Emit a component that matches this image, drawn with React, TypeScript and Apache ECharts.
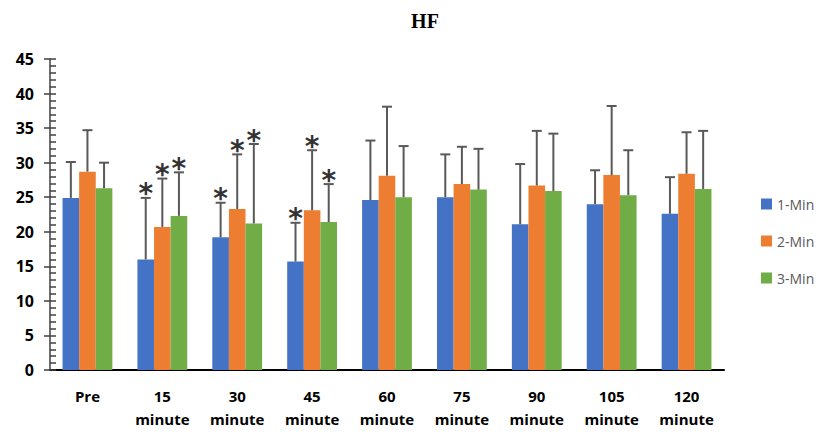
import React, { useEffect, useRef } from "react";
import * as echarts from "echarts";

const categories = ["Pre", "15\nminute", "30\nminute", "45\nminute", "60\nminute", "75\nminute", "90\nminute", "105\nminute", "120\nminute"];
const seriesNames = ["1-Min", "2-Min", "3-Min"];
const colors = ["#4472C4", "#ED7D31", "#70AD47"];

const min1 = [24.9, 16.0, 19.2, 15.7, 24.6, 25.0, 21.1, 24.0, 22.6];
const min2 = [28.7, 20.7, 23.3, 23.1, 28.1, 26.9, 26.7, 28.2, 28.4];
const min3 = [26.3, 22.3, 21.2, 21.4, 25.0, 26.1, 25.9, 25.3, 26.2];

const err1 = [30.1, 24.9, 24.2, 21.3, 33.2, 31.2, 29.8, 28.9, 27.9];
const err2 = [34.7, 27.7, 31.2, 31.8, 38.1, 32.3, 34.6, 38.2, 34.4];
const err3 = [30.0, 28.6, 32.7, 26.9, 32.4, 32.0, 34.2, 31.8, 34.6];

const star1 = [0, 1, 1, 1, 0, 0, 0, 0, 0];
const star2 = [0, 1, 1, 1, 0, 0, 0, 0, 0];
const star3 = [0, 1, 1, 1, 0, 0, 0, 0, 0];

const yTicks = [0, 5, 10, 15, 20, 25, 30, 35, 40, 45];

export default function App() {
  const ref = useRef<HTMLDivElement>(null);
  useEffect(() => {
    if (!ref.current) return;
    const chart = echarts.init(ref.current, undefined, { renderer: "svg" });
    const values = [min1, min2, min3];
    const errs = [err1, err2, err3];
    const stars = [star1, star2, star3];
    const catGapFrac = 0.335;

    const barSeries = seriesNames.map((name, i) => ({
      name,
      type: "bar",
      data: values[i],
      itemStyle: { color: colors[i] },
      barGap: "0%",
      barCategoryGap: "33.5%",
      z: 2,
    }));

    const errSeries = seriesNames.map((name, i) => ({
      name: name + " err",
      type: "custom",
      z: 5,
      data: values[i].map((v, j) => [j, v, errs[i][j], stars[i][j]]),
      encode: { x: 0, y: 2 },
      renderItem: (params: any, api: any) => {
        const idx = api.value(0);
        const v = api.value(1);
        const e = api.value(2);
        const s = api.value(3);
        const band = api.size([1, 0])[0];
        const bw = (band * (1 - catGapFrac)) / 3;
        const base = api.coord([idx, v]);
        const top = api.coord([idx, e]);
        const x = base[0] + (i - 1) * bw;
        const capHalf = 5;
        const children: any[] = [
          { type: "line", shape: { x1: x, y1: base[1], x2: x, y2: top[1] }, style: { stroke: "#595959", lineWidth: 2 } },
          { type: "line", shape: { x1: x - capHalf, y1: top[1], x2: x + capHalf, y2: top[1] }, style: { stroke: "#595959", lineWidth: 2 } },
        ];
        if (s) {
          children.push({
            type: "text",
            x: x,
            y: top[1] - 18,
            style: { text: "*", fontSize: 28, fontWeight: "bold", fontFamily: "DejaVu Sans", fill: "#333", align: "center", verticalAlign: "top" },
          });
        }
        return { type: "group", children };
      },
    }));

    chart.setOption({
      animation: false,
      title: {
        text: "HF",
        left: 420,
        top: 6,
        textAlign: "center",
        textStyle: { fontFamily: "Liberation Serif", fontWeight: "bold", fontSize: 20, color: "#000" },
      },
      legend: {
        data: seriesNames,
        orient: "vertical",
        left: 756,
        top: 192,
        itemWidth: 11,
        itemHeight: 11,
        itemGap: 23,
        icon: "rect",
        textStyle: { fontFamily: "Open Sans", fontSize: 14, color: "#595959" },
      },
      grid: { left: 50, right: 100, top: 59, bottom: 65, containLabel: false },
      xAxis: {
        type: "category",
        data: categories,
        axisLine: { lineStyle: { color: "#000", width: 2 } },
        axisTick: { alignWithLabel: true, length: 5, lineStyle: { color: "#000", width: 1.5 } },
        axisLabel: { fontFamily: "Open Sans", fontWeight: "bold", fontSize: 15, color: "#000", margin: 14, lineHeight: 23 },
      },
      yAxis: [
        {
          type: "value",
          min: 0,
          max: 45,
          interval: 5,
          axisLine: { show: true, lineStyle: { color: "#404040", width: 1.5 } },
          axisTick: { show: true, inside: true, length: 6, lineStyle: { color: "#404040", width: 1.5 } },
          minorTick: { show: true, splitNumber: 5, length: 6, lineStyle: { color: "#404040", width: 1.5 } },
          splitLine: { show: false },
          axisLabel: {
            fontFamily: "Open Sans",
            fontWeight: "bold",
            fontSize: 16,
            color: "#000",
            margin: 16,
            formatter: (val: number) => (yTicks.indexOf(val) >= 0 ? String(val) : ""),
          },
        },
        {
          type: "value",
          position: "left",
          min: 0,
          max: 45,
          interval: 5,
          axisLine: { show: false },
          axisTick: { show: true, inside: false, length: 6, lineStyle: { color: "#404040", width: 1.5 } },
          splitLine: { show: false },
          axisLabel: { show: false },
        },
      ],
      series: [...barSeries, ...errSeries],
    });
    return () => chart.dispose();
  }, []);
  return <div ref={ref} style={{ position: "absolute", left: 0, top: 0, width: 824, height: 435 }} />;
}
